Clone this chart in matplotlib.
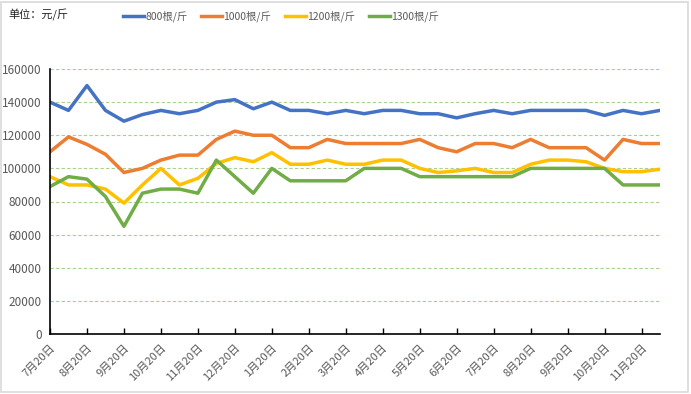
import matplotlib
matplotlib.use("Agg")
import matplotlib.pyplot as plt
from matplotlib.patches import Rectangle

plt.rcParams['font.family'] = ['Noto Sans CJK SC', 'DejaVu Sans']

months = ['7月20日', '8月20日', '9月20日', '10月20日', '11月20日', '12月20日',
          '1月20日', '2月20日', '3月20日', '4月20日', '5月20日', '6月20日',
          '7月20日', '8月20日', '9月20日', '10月20日', '11月20日']

p800 = [140000, 135000, 150000, 135000, 128500, 132500, 135000, 133000, 135000,
        140000, 141500, 136000, 140000, 135000, 135000, 133000, 135000, 133000,
        135000, 135000, 133000, 133000, 130500, 133000, 135000, 133000, 135000,
        135000, 135000, 135000, 132000, 135000, 133000, 135000]
p1000 = [110000, 119000, 114500, 108500, 97500, 100000, 105000, 108000, 108000,
         117500, 122500, 120000, 120000, 112500, 112500, 117500, 115000, 115000,
         115000, 115000, 117500, 112500, 110000, 115000, 115000, 112500, 117500,
         112500, 112500, 112500, 105000, 117500, 115000, 115000]
p1200 = [95000, 90000, 90000, 87500, 79000, 90000, 100000, 90000, 94000,
         103000, 106500, 104000, 109500, 102500, 102500, 105000, 102500, 102500,
         105000, 105000, 100000, 97500, 98500, 100000, 97500, 97500, 102500,
         105000, 105000, 104000, 100000, 98000, 98000, 99500]
p1300 = [89000, 95000, 93500, 83000, 65000, 85000, 87500, 87500, 85000,
         105000, 95000, 85000, 100000, 92500, 92500, 92500, 92500, 100000,
         100000, 100000, 95000, 95000, 95000, 95000, 95000, 95000, 100000,
         100000, 100000, 100000, 100000, 90000, 90000, 90000]

series = [('800根/斤', p800, '#4472C4'),
          ('1000根/斤', p1000, '#ED7D31'),
          ('1200根/斤', p1200, '#FFC000'),
          ('1300根/斤', p1300, '#70AD47')]

fig = plt.figure(figsize=(6.91, 3.94), dpi=100)
ax = fig.add_axes([50 / 691, 60 / 394, 610 / 691, 265 / 394])

x = list(range(len(p800)))
for name, vals, c in series:
    ax.plot(x, vals, color=c, lw=2.5, label=name, solid_joinstyle='round')

ax.set_xlim(0, len(p800) - 1)
ax.set_ylim(0, 160000)
ax.set_yticks(range(0, 160001, 20000))
ax.set_xticks(range(0, len(p800) - 1, 2))
ax.set_xticklabels(months, rotation=45, ha='right', rotation_mode='anchor')
ax.tick_params(axis='x', direction='in', length=4, width=1, colors='black',
               labelcolor='#595959', labelsize=8, pad=6)
ax.tick_params(axis='y', length=0, labelcolor='#595959', labelsize=8.5, pad=6)

ax.grid(axis='y', color='#A9D18E', linestyle=(0, (3, 2)), lw=0.8)
ax.set_axisbelow(True)
for s in ['top', 'right']:
    ax.spines[s].set_visible(False)
ax.spines['left'].set_color('black')
ax.spines['bottom'].set_color('black')
ax.spines['left'].set_linewidth(1.2)
ax.spines['bottom'].set_linewidth(1.2)

fig.text(8 / 691, 1 - 15 / 394, '单位：元/斤', fontsize=8, color='#222222', va='center')
fig.legend(loc='center', bbox_to_anchor=(281 / 691, 1 - 16 / 394), ncol=4,
           frameon=False, fontsize=7.5, handlelength=2.0, columnspacing=1.3,
           handletextpad=0.15, labelcolor='#595959')

fig.patches.append(Rectangle((0.001, 0.005), 0.994, 0.99, transform=fig.transFigure,
                             fill=False, edgecolor='#D9D9D9', lw=1.2))

fig.savefig('out.png', dpi=100)
